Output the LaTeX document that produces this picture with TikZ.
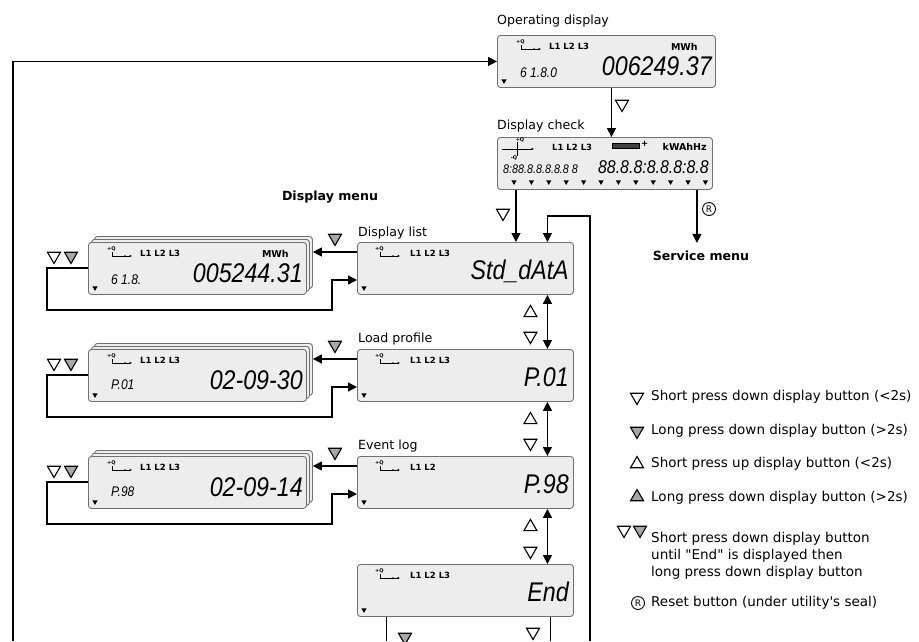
\documentclass[tikz,border=0pt]{standalone}
\usepackage{fontspec}
\setmainfont{DejaVu Sans}[Ligatures=TeXOff]
\newfontfamily\segfont{Liberation Sans}[FakeStretch=0.86]
\usetikzlibrary{positioning,arrows.meta,shapes.geometric}
\definecolor{LCDFill}{HTML}{EDEDED}
\definecolor{LCDEdge}{HTML}{707070}
\definecolor{KeyGray}{HTML}{A8A8A8}
\tikzstyle{lcd} = [draw=LCDEdge,fill=LCDFill,rounded corners=3pt,line width=0.9pt,minimum width=218pt,minimum height=52pt,inner sep=0pt,anchor=north west]
\tikzstyle{flow} = [line width=1.4pt,-{Triangle[length=9pt,width=9pt]}]
\tikzstyle{both} = [line width=1.4pt,{Triangle[length=9pt,width=9pt]}-{Triangle[length=9pt,width=9pt]}]
\tikzstyle{wire} = [line width=1.4pt]
\tikzstyle{tri} = [draw,regular polygon,regular polygon sides=3,minimum size=15pt,inner sep=0pt,line width=1.1pt]
\tikzstyle{tridn} = [tri,shape border rotate=180,fill=white]
\tikzstyle{tridng} = [tridn,fill=KeyGray]
\tikzstyle{triup} = [tri,fill=white]
\tikzstyle{triupg} = [triup,fill=KeyGray]
\tikzstyle{segtick} = [fill,regular polygon,regular polygon sides=3,shape border rotate=180,minimum size=6pt,inner sep=0pt]
\tikzstyle{caption} = [font=\fontsize{12.6}{15}\selectfont,anchor=base west,inner sep=0pt]
\tikzstyle{heading} = [font=\fontsize{12.6}{15}\selectfont\bfseries,inner sep=0pt]
\tikzstyle{legend} = [font=\fontsize{13.5}{17}\selectfont,align=left,inner sep=0pt]
\tikzstyle{phase} = [font=\fontsize{8.5}{9}\selectfont\bfseries,anchor=base west,inner sep=0pt]
\tikzstyle{unit} = [font=\fontsize{9.5}{10}\selectfont\bfseries,anchor=base east,inner sep=0pt]
\tikzstyle{bigseg} = [font=\fontsize{27}{27}\segfont\itshape,anchor=base east,inner sep=0pt]
\tikzstyle{midseg} = [font=\fontsize{18.5}{19}\segfont\itshape,anchor=base east,inner sep=0pt]
\tikzstyle{smallseg} = [font=\fontsize{14}{14}\segfont\itshape,anchor=base west,inner sep=0pt]
\tikzstyle{tinyseg} = [font=\fontsize{12.5}{12.5}\segfont\itshape,anchor=base west,inner sep=0pt]
\tikzstyle{reset} = [draw,circle,line width=0.9pt,minimum size=13pt,inner sep=0pt,font=\fontsize{9}{9}\selectfont]
\tikzset{
  qicon/.pic={
    \node[font=\fontsize{5}{5}\selectfont\bfseries,inner sep=0pt,anchor=north west] at (0,0) {+Q};
    \draw[line width=1pt] (5,5) |- (17,9);
    \draw[line width=0.7pt,-{Latex[length=2.5pt,width=2.5pt]}] (17,9) -- (25,9);
    \fill (18,9) circle (1pt);
  },
  qcross/.pic={
    \draw[line width=0.8pt,-{Latex[length=2.5pt,width=2.5pt]}] (0,10) -- (32,10);
    \draw[line width=0.8pt] (15,3) -- (15,17);
    \node[font=\fontsize{5}{5}\selectfont\bfseries,inner sep=0pt] at (18,1) {+Q};
    \node[font=\fontsize{5}{5}\selectfont\bfseries,inner sep=0pt] at (12,19) {-Q};
  }
}

\begin{document}
\begin{tikzpicture}[x=1pt,y=-1pt]
  \useasboundingbox (0,0) rectangle (919,641);

  % operating display and display check
  \node[caption] (opdt) at (497,24) {Operating display};
  \node[lcd] (opd) at (497,35) {};
  \pic at ([shift={(19,5)}]opd.north west) {qicon};
  \node[phase] at ([shift={(52,14)}]opd.north west) {L1 L2 L3};
  \node[unit] at ([shift={(-18,15)}]opd.north east) {MWh};
  \node[smallseg] at ([shift={(23,42)}]opd.north west) {6 1.8.0};
  \node[bigseg] at ([shift={(-4,40)}]opd.north east) {006249.37};
  \node[segtick] at ([shift={(7,-7)}]opd.south west) {};

  \node[caption] (chkt) at (497,129) {Display check};
  \node[lcd,minimum width=215pt] (chk) at (497,137) {};
  \pic at ([shift={(5,2)}]chk.north west) {qcross};
  \node[phase] at ([shift={(55,13)}]chk.north west) {L1 L2 L3};
  \draw[fill=black!75] ([shift={(115,6)}]chk.north west) rectangle ++(27,5);
  \node[phase] at ([shift={(144,9)}]chk.north west) {+};
  \node[unit] at ([shift={(-6,13)}]chk.north east) {kWAhHz};
  \node[tinyseg] at ([shift={(6,36)}]chk.north west) {8:88.8.8.8.8.8 8};
  \node[midseg] at ([shift={(-4,36)}]chk.north east) {88.8.8:8.8.8:8.8};
  \foreach \i in {0,...,11}
    \node[segtick] at ([shift={(17+17.4*\i,-8)}]chk.south west) {};

  \node[heading] (menu) at (330,197) {Display menu};
  \node[heading] (svc) at (701,256) {Service menu};

  % display menu
  \node[caption] at (358,236) {Display list};
  \node[lcd,minimum width=216pt] (dl) at (357,242) {};
  \pic at ([shift={(18,5)}]dl.north west) {qicon};
  \node[phase] at ([shift={(53,14)}]dl.north west) {L1 L2 L3};
  \node[bigseg] at ([shift={(-5,37)}]dl.north east) {Std\_dAtA};
  \node[segtick] at ([shift={(7,-7)}]dl.south west) {};

  \node[caption] at (358,342) {Load profile};
  \node[lcd,minimum width=216pt] (lp) at (357,349) {};
  \pic at ([shift={(18,5)}]lp.north west) {qicon};
  \node[phase] at ([shift={(53,14)}]lp.north west) {L1 L2 L3};
  \node[bigseg] at ([shift={(-5,37)}]lp.north east) {P.01};
  \node[segtick] at ([shift={(7,-7)}]lp.south west) {};

  \node[caption] at (358,449) {Event log};
  \node[lcd,minimum width=216pt] (ev) at (357,456) {};
  \pic at ([shift={(18,5)}]ev.north west) {qicon};
  \node[phase] at ([shift={(53,14)}]ev.north west) {L1 L2};
  \node[bigseg] at ([shift={(-5,37)}]ev.north east) {P.98};
  \node[segtick] at ([shift={(7,-7)}]ev.south west) {};

  \node[lcd,minimum width=216pt] (en) at (357,564) {};
  \pic at ([shift={(18,5)}]en.north west) {qicon};
  \node[phase] at ([shift={(53,14)}]en.north west) {L1 L2 L3};
  \node[bigseg] at ([shift={(-5,37)}]en.north east) {End};
  \node[segtick] at ([shift={(7,-7)}]en.south west) {};

  % stacked value lists
  \node[lcd] at (94,236) {};
  \node[lcd] at (91,239) {};
  \node[lcd] (dls) at (88,242) {};
  \pic at ([shift={(19,5)}]dls.north west) {qicon};
  \node[phase] at ([shift={(52,14)}]dls.north west) {L1 L2 L3};
  \node[unit] at ([shift={(-18,15)}]dls.north east) {MWh};
  \node[smallseg] at ([shift={(23,42)}]dls.north west) {6 1.8.};
  \node[bigseg] at ([shift={(-4,40)}]dls.north east) {005244.31};
  \node[segtick] at ([shift={(7,-7)}]dls.south west) {};

  \node[lcd] at (94,343) {};
  \node[lcd] at (91,346) {};
  \node[lcd] (lps) at (88,349) {};
  \pic at ([shift={(19,5)}]lps.north west) {qicon};
  \node[phase] at ([shift={(52,14)}]lps.north west) {L1 L2 L3};
  \node[smallseg] at ([shift={(23,40)}]lps.north west) {P.01};
  \node[bigseg] at ([shift={(-4,40)}]lps.north east) {02-09-30};
  \node[segtick] at ([shift={(7,-7)}]lps.south west) {};

  \node[lcd] at (94,450) {};
  \node[lcd] at (91,453) {};
  \node[lcd] (evs) at (88,456) {};
  \pic at ([shift={(19,5)}]evs.north west) {qicon};
  \node[phase] at ([shift={(52,14)}]evs.north west) {L1 L2 L3};
  \node[smallseg] at ([shift={(23,40)}]evs.north west) {P.98};
  \node[bigseg] at ([shift={(-4,40)}]evs.north east) {02-09-14};
  \node[segtick] at ([shift={(7,-7)}]evs.south west) {};

  % connectors
  \coordinate (bl) at (13,641);
  \coordinate (br) at (590,641);
  \coordinate (rtop) at (590,216);
  \draw[flow] (bl) |- (opd.west);
  \draw[flow] ([xshift=5pt]opd.south) -- ([xshift=5pt]opd.south |- chk.north);
  \node[tridn] at (622,104) {};
  \draw[flow] ([xshift=-89pt]chk.south) -- ([xshift=-89pt]chk.south |- dl.north);
  \node[tridn] at (503,213) {};
  \draw[flow,shorten >=8pt] ([xshift=92pt]chk.south) -- ([xshift=92pt]chk.south |- svc.north);
  \node[reset] at (709,209) {R};
  \draw[flow] (br) -- (rtop) -| ([xshift=82pt]dl.north);

  \foreach \a/\b in {dl/lp,lp/ev,ev/en}{
    \draw[both] ([xshift=82pt]\a.south) -- ([xshift=82pt]\b.north);
    \node[triup] at ([shift={(65,18)}]\a.south) {};
    \node[tridn] at ([shift={(65,-13)}]\b.north) {};
  }
  \foreach \m/\s in {dl/dls,lp/lps,ev/evs}{
    \draw[flow] ([yshift=-10pt]\m.north west) -- ([xshift=6pt,yshift=-10pt]\s.north east);
    \draw[flow] ([yshift=-26pt]\s.north west) -- ++(-41,0) |- ++(285,42) |- ([yshift=-38pt]\m.north west);
    \node[tridng] at ([shift={(-22,-4)}]\m.north west) {};
    \node[tridn] at ([shift={(-34,14)}]\s.north west) {};
    \node[tridng] at ([shift={(-17,14)}]\s.north west) {};
  }
  \draw[wire] ([xshift=-79pt]en.south) -- ([xshift=-79pt]en.south |- bl);
  \draw[wire] ([xshift=85pt]en.south) -- ([xshift=85pt]en.south |- br);
  \node[tridng] at (405,637) {};
  \node[tridn] at (533,632) {};

  % key
  \node[tridn] (k1) at (637,397) {};
  \node[legend,anchor=west] at (651,397) {Short press down display button (<2s)};
  \node[tridng] (k2) at (637,431) {};
  \node[legend,anchor=west] at (651,431) {Long press down display button (>2s)};
  \node[triup] (k3) at (637,464) {};
  \node[legend,anchor=west] at (651,464) {Short press up display button (<2s)};
  \node[triupg] (k4) at (637,497) {};
  \node[legend,anchor=west] at (651,498) {Long press down display button (>2s)};
  \node[tridn] (k5) at (624,530) {};
  \node[tridng] at (640,530) {};
  \node[legend,anchor=north west] at (651,532) {Short press down display button\\until "End" is displayed then\\long press down display button};
  \node[reset] (k6) at (638,603) {R};
  \node[legend,anchor=west] at (651,603) {Reset button (under utility's seal)};
\end{tikzpicture}
\end{document}
